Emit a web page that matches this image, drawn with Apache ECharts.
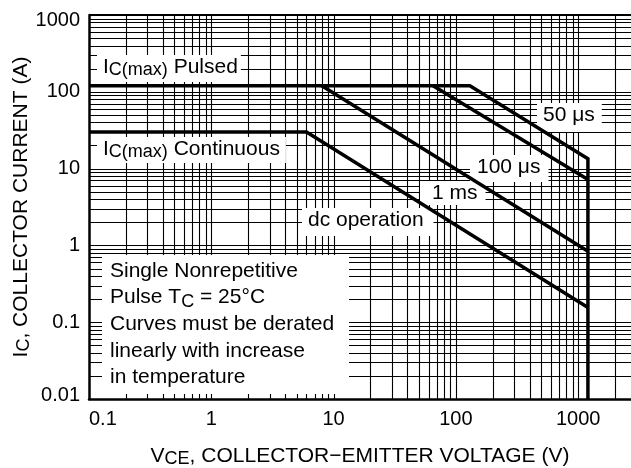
<!DOCTYPE html>
<html><head><meta charset="utf-8">
<script src="https://cdn.jsdelivr.net/npm/echarts@6/dist/echarts.min.js"></script>
<style>html,body{margin:0;padding:0;background:#fff}#c{width:631px;height:468px}</style>
</head><body><div id="c"></div>
<script>
// ---- axis ticks / labels ----
const xTicks = [0.1, 1, 10, 100, 1000];
const xTickLabels = ['0.1', '1', '10', '100', '1000'];
const yTicks = [0.01, 0.1, 1, 10, 100, 1000];
const yTickLabels = ['0.01', '0.1', '1', '10', '100', '1000'];
const xRange = [0.1, 2700];
const yRange = [0.01, 1000];
// log grid lines
const xGridValues = [0.2,0.3,0.4,0.5,0.6,0.7,0.8,0.9,1,2,3,4,5,6,7,8,9,10,20,30,40,50,60,70,80,90,100,200,300,400,500,600,700,800,900,1000,2000];
const yGridValues = [0.02,0.03,0.04,0.05,0.06,0.07,0.08,0.09,0.1,0.2,0.3,0.4,0.5,0.6,0.7,0.8,0.9,1,2,3,4,5,6,7,8,9,10,20,30,40,50,60,70,80,90,100,200,300,400,500,600,700,800,900,1000];

// ---- safe operating area curves (V_CE in V, I_C in A) ----
const pulsedV = [0.1, 130, 1200, 1200];
const pulsedI = [120, 120, 13.4, 0.01];
const us100V = [65, 1200];
const us100I = [120, 7.2];
const ms1V = [8, 1200];
const ms1I = [120, 0.84];
const dcV = [0.1, 6, 1200];
const dcI = [30, 30, 0.155];

const FONT = '"Liberation Sans", Arial, Helvetica, sans-serif';
const pairs = (xs, ys) => xs.map((x, i) => [x, ys[i]]);
const findIdx = (arr, v) => arr.findIndex(t => Math.abs(t - v) / t < 1e-6);

function gridSeries(values, vertical) {
  return {
    type: 'custom', z: 1, silent: true, animation: false, clip: false,
    data: values.map(v => vertical ? [v, yRange[0]] : [xRange[0], v]),
    renderItem: (params, api) => {
      const v = api.value(vertical ? 0 : 1);
      const a = api.coord(vertical ? [v, yRange[0]] : [xRange[0], v]);
      const b = api.coord(vertical ? [v, yRange[1]] : [xRange[1], v]);
      if (vertical) {
        const x = Math.round(a[0]) + 0.5;
        return { type: 'line', shape: { x1: x, y1: a[1], x2: x, y2: b[1] }, style: { stroke: '#000', lineWidth: 1.1 } };
      }
      const top = v === yRange[1];
      const y = top ? Math.round(a[1]) : Math.round(a[1]) + 0.5;
      return { type: 'line', shape: { x1: a[0], y1: y, x2: b[0], y2: y }, style: { stroke: '#000', lineWidth: top ? 2 : 1.1 } };
    }
  };
}

function curve(name, xs, ys) {
  return {
    name, type: 'line', z: 10, silent: true, animation: false, symbol: 'none',
    data: pairs(xs, ys),
    lineStyle: { color: '#000', width: 3.5, join: 'miter', cap: 'butt' }
  };
}

const subRich = { s: { fontSize: 18, fontFamily: FONT, lineHeight: 16, verticalAlign: 'bottom', fill: '#000', color: '#000' } };

function boxText(x, y, text, padding) {
  return {
    type: 'text', x, y, z: 5, silent: true,
    style: {
      text, fontSize: 21, fontFamily: FONT, fill: '#000', lineHeight: 24,
      backgroundColor: '#fff', padding, align: 'left', verticalAlign: 'top',
      rich: subRich
    }
  };
}

const chart = echarts.init(document.getElementById('c'), null, { renderer: 'canvas' });
chart.setOption({
  animation: false,
  backgroundColor: '#fff',
  grid: { left: 89, right: 0, top: 15, bottom: 69, containLabel: false, outerBoundsMode: 'none' },
  xAxis: {
    type: 'log', logBase: 10, min: xRange[0], max: xRange[1],
    name: 'V{s|CE}, COLLECTOR\u2212EMITTER VOLTAGE (V)',
    nameLocation: 'middle', nameGap: 45, nameMoveOverlap: false,
    nameTextStyle: { fontSize: 21, fontFamily: FONT, color: '#000', lineHeight: 24, rich: subRich },
    axisLine: { show: true, lineStyle: { color: '#000', width: 2.5 } },
    axisTick: { show: false }, splitLine: { show: false }, minorTick: { show: false },
    axisLabel: {
      fontSize: 20, fontFamily: FONT, color: '#000', margin: 10, alignMinLabel: 'left', showMaxLabel: false,
      formatter: v => { const i = findIdx(xTicks, v); return i >= 0 ? xTickLabels[i] : ''; }
    }
  },
  yAxis: {
    type: 'log', logBase: 10, min: yRange[0], max: yRange[1],
    name: 'I{s|C}, COLLECTOR CURRENT (A)',
    nameLocation: 'middle', nameGap: 56, nameMoveOverlap: false,
    nameTextStyle: { fontSize: 21, fontFamily: FONT, color: '#000', lineHeight: 24, rich: subRich },
    axisLine: { show: true, lineStyle: { color: '#000', width: 2.5 } },
    axisTick: { show: false }, splitLine: { show: false }, minorTick: { show: false },
    axisLabel: {
      fontSize: 20, fontFamily: FONT, color: '#000', margin: 9,
      formatter: v => {
        const i = findIdx(yTicks, v);
        if (i < 0) return '';
        if (i === yTicks.length - 1) return '{t|' + yTickLabels[i] + '}';
        if (i === 0) return '{b|' + yTickLabels[i] + '}';
        return yTickLabels[i];
      },
      rich: {
        t: { fontSize: 20, fontFamily: FONT, color: '#000', padding: [10, 0, 0, 0] },
        b: { fontSize: 20, fontFamily: FONT, color: '#000', padding: [0, 0, 8, 0] }
      }
    }
  },
  series: [
    gridSeries(xGridValues, true),
    gridSeries(yGridValues, false),
    curve('pulsed', pulsedV, pulsedI),
    curve('100us', us100V, us100I),
    curve('1ms', ms1V, ms1I),
    curve('dc', dcV, dcI)
  ],
  graphic: {
    elements: [
      boxText(97, 55, 'I{s|C(max)} Pulsed', [0, 3, 3, 6]),
      boxText(97, 137, 'I{s|C(max)} Continuous', [0, 6, 2, 6]),
      boxText(537, 103, '50 \u03bcs', [0, 7, 5, 6]),
      boxText(470, 155, '100 \u03bcs', [0, 8, 3, 7]),
      boxText(420, 181, '1 ms', [0, 8, 0, 12]),
      boxText(302, 208, 'dc operation', [0, 10, 4, 6]),
      { type: 'rect', z: 5, silent: true, shape: { x: 102, y: 255, width: 247, height: 139 }, style: { fill: '#fff' } },
      {
        type: 'text', x: 110, y: 257.5, z: 6, silent: true,
        style: {
          text: 'Single Nonrepetitive\nPulse T{s|C} = 25\u00b0C\nCurves must be derated\nlinearly with increase\nin temperature',
          fontSize: 21, fontFamily: FONT, fill: '#000', lineHeight: 26.7, align: 'left', verticalAlign: 'top',
          rich: subRich
        }
      }
    ]
  }
});
</script></body></html>
